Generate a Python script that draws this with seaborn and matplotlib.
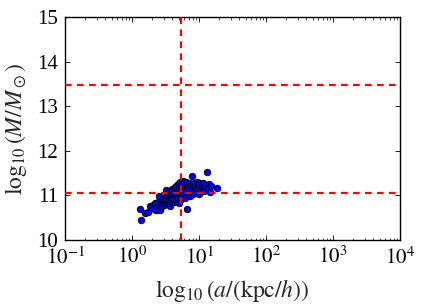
import numpy as np
import pandas as pd
import matplotlib
matplotlib.use("Agg")
import matplotlib.pyplot as plt
import seaborn as sns

a_kpc = [1.29, 1.35, 1.53, 1.75, 1.85, 1.95, 2.05, 2.1, 2.2, 2.25, 2.3, 2.4, 2.45, 2.5, 2.55, 2.6,
         2.65, 2.7, 2.75, 2.8, 2.9, 2.95, 3.0, 3.05, 3.1, 3.15, 3.2, 3.25, 3.3, 3.35, 3.4, 3.45,
         3.5, 3.55, 3.6, 3.65, 3.7, 3.75, 3.8, 3.85, 3.9, 3.95, 4.0, 4.05, 4.1, 4.15, 4.2, 4.25,
         4.3, 4.35, 4.4, 4.45, 4.5, 4.55, 4.6, 4.65, 4.7, 4.75, 4.8, 4.85, 4.9, 5.0, 5.05, 5.1,
         5.15, 5.2, 5.3, 5.35, 5.4, 5.5, 5.6, 5.7, 5.8, 5.9, 6.0, 6.1, 6.2, 6.3, 6.4, 6.5, 6.6,
         6.7, 6.8, 6.9, 7.0, 7.1, 7.2, 7.3, 7.4, 7.6, 7.7, 7.8, 8.0, 8.2, 8.4, 8.6, 8.8, 9.0,
         9.2, 9.4, 9.6, 9.8, 10.0, 10.3, 10.6, 11.0, 11.3, 11.6, 12.0, 12.4, 13.0, 13.5, 14.0,
         14.6, 15.2, 18.4]
log_mass = [10.69, 10.45, 10.60, 10.62, 10.75, 10.72, 10.78, 10.70, 10.82, 10.74, 10.68, 10.79,
            10.85, 10.98, 10.72, 10.66, 10.88, 10.80, 10.93, 10.75, 10.85, 10.90, 10.78, 10.96,
            10.83, 10.88, 11.12, 10.92, 10.80, 10.99, 11.05, 10.86, 10.94, 11.10, 10.90, 11.02,
            10.77, 10.97, 11.08, 10.88, 11.14, 10.95, 11.03, 10.84, 11.12, 10.99, 11.06, 10.92,
            11.18, 11.01, 10.86, 11.10, 10.96, 11.22, 11.04, 10.90, 11.15, 11.00, 11.26, 10.94,
            11.08, 11.20, 10.82, 11.12, 10.98, 11.30, 11.05, 11.18, 10.92, 11.24, 11.10, 11.33,
            11.02, 11.16, 11.27, 10.95, 11.20, 11.08, 11.30, 10.69, 11.13, 11.24, 11.00, 11.18,
            11.28, 11.06, 11.22, 10.98, 11.15, 11.26, 11.43, 11.10, 11.20, 11.04, 11.28, 11.14,
            11.22, 11.08, 11.30, 11.17, 11.25, 11.02, 11.20, 11.28, 11.12, 11.24, 11.16, 11.28,
            11.10, 11.22, 11.52, 11.18, 11.26, 11.08, 11.20, 11.16]
a_cut = 5.3
mass_cuts = [11.05, 13.48]
x_ticks = [0.1, 1, 10, 100, 1000, 10000]
x_ticklabels = [r"$10^{-1}$", r"$10^{0}$", r"$10^{1}$", r"$10^{2}$", r"$10^{3}$", r"$10^{4}$"]
y_ticks = [10, 11, 12, 13, 14, 15]

df = pd.DataFrame({"a": a_kpc, "M": log_mass})

sns.set_style("ticks")
plt.rcParams["font.family"] = ["serif"]
plt.rcParams["font.serif"] = ["Liberation Serif", "DejaVu Serif"]
plt.rcParams["mathtext.fontset"] = "stix"

fig = plt.figure(figsize=(4.23, 3.06), dpi=100)
ax = fig.add_axes([0.154, 0.216, 0.792, 0.728])
sns.scatterplot(data=df, x="a", y="M", ax=ax, color="#0000ff", edgecolor="black",
                linewidth=0.6, s=22, zorder=2)
ax.set_xscale("log")
ax.set_xlim(0.1, 10000)
ax.set_ylim(10, 15)
ax.axvline(a_cut, color="red", ls="--", lw=1.6, dashes=(3, 2.4), zorder=3)
for m in mass_cuts:
    ax.axhline(m, color="red", ls="--", lw=1.6, dashes=(3, 2.4), zorder=3)
ax.set_xticks(x_ticks)
ax.set_xticklabels(x_ticklabels)
ax.set_yticks(y_ticks)
ax.tick_params(which="both", direction="in", top=True, right=True, labelsize=15, colors="black")
ax.tick_params(which="major", length=3.5, width=0.6, pad=5)
ax.tick_params(which="minor", length=1.8, width=0.5)
for sp in ax.spines.values():
    sp.set_linewidth(1.0)
    sp.set_color("black")
ax.set_xlabel(r"$\log_{10}(a/(\mathrm{kpc}/h))$", fontsize=17, labelpad=6)
ax.set_ylabel(r"$\log_{10}(M/M_\odot)$", fontsize=17, labelpad=6)
fig.savefig("out.png", dpi=100)
